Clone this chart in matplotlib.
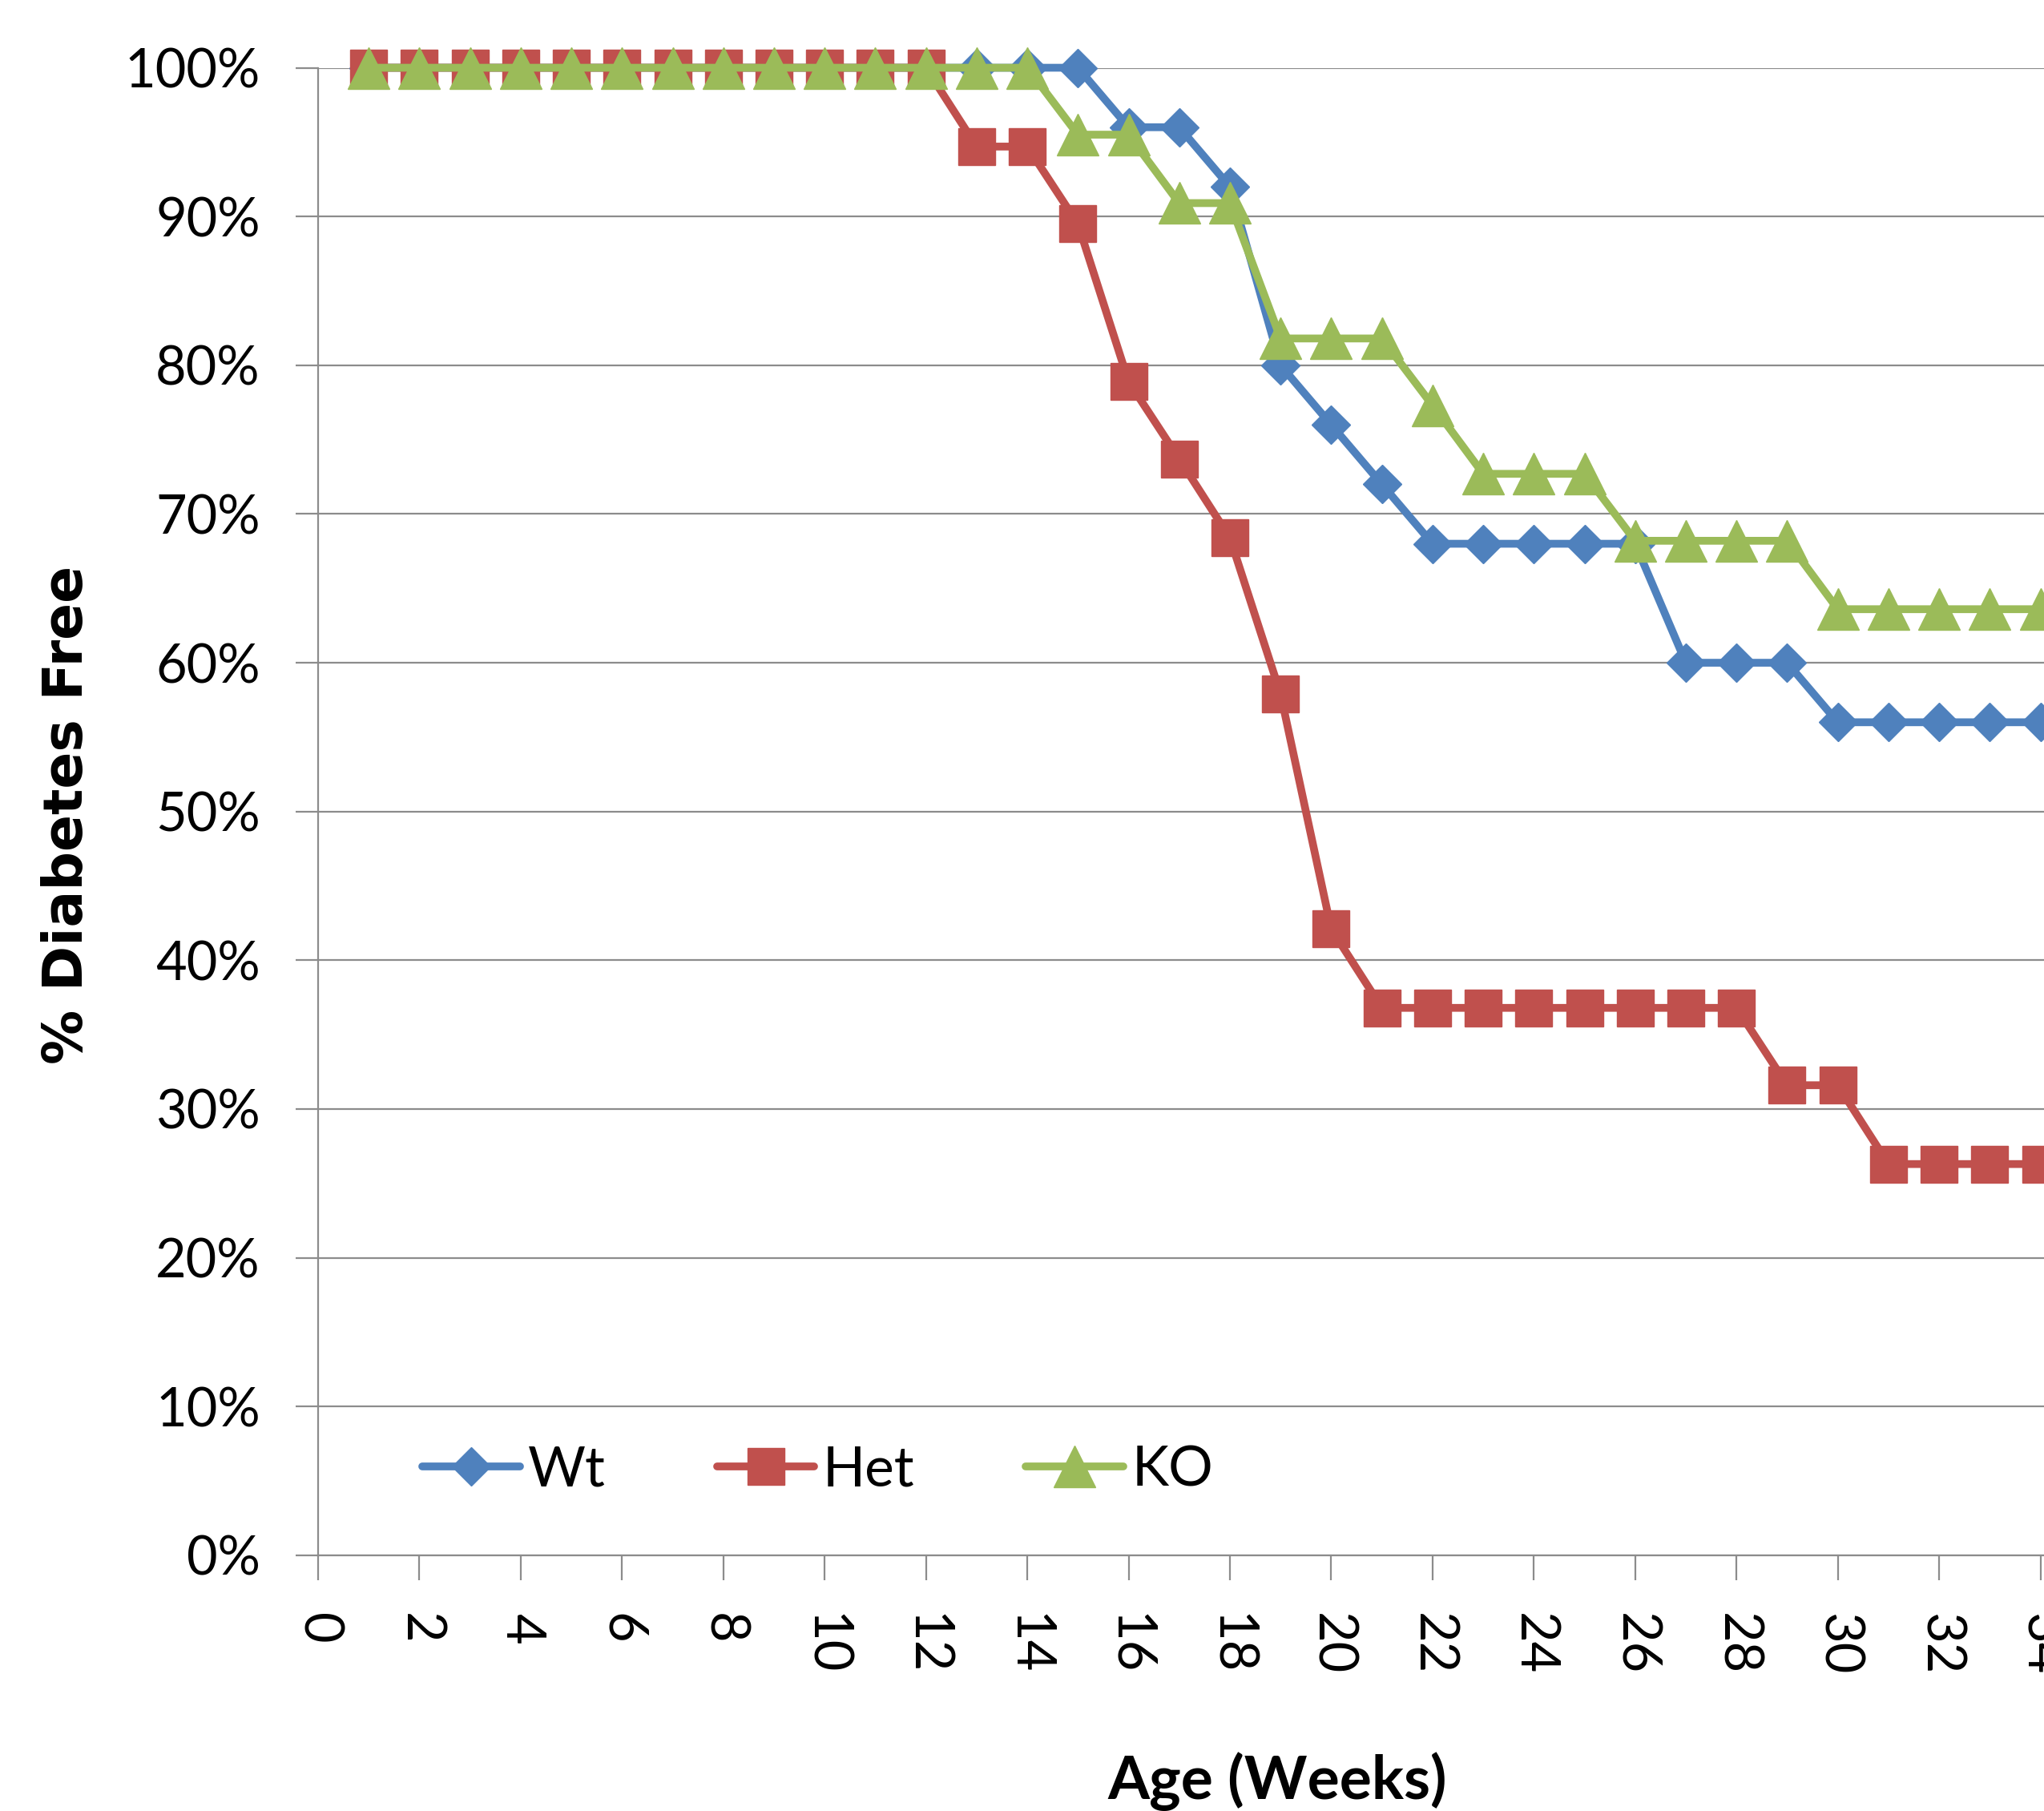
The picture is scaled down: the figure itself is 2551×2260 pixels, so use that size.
import matplotlib.pyplot as plt

# dados (semanas e % livre de diabetes)
semanas = [1, 2, 3, 4, 5, 6, 7, 8, 9, 10, 11, 12, 13, 14, 15, 16, 17,
           18, 19, 20, 21, 22, 23, 24, 25, 26, 27, 28, 29, 30, 31, 32, 33, 34]
wt = [100, 100, 100, 100, 100, 100, 100, 100, 100, 100, 100, 100, 100, 100, 100, 96, 96,
      92, 80, 76, 72, 68, 68, 68, 68, 68, 60, 60, 60, 56, 56, 56, 56, 56]
het = [100, 100, 100, 100, 100, 100, 100, 100, 100, 100, 100, 100, 94.7, 94.7, 89.5, 78.9, 73.7,
       68.4, 57.9, 42.1, 36.8, 36.8, 36.8, 36.8, 36.8, 36.8, 36.8, 36.8, 31.6, 31.6, 26.3, 26.3, 26.3, 26.3]
ko = [100, 100, 100, 100, 100, 100, 100, 100, 100, 100, 100, 100, 100, 100, 95.5, 95.5, 90.9,
      90.9, 81.8, 81.8, 81.8, 77.3, 72.7, 72.7, 72.7, 68.2, 68.2, 68.2, 68.2, 63.6, 63.6, 63.6, 63.6, 63.6]

series_nomes = ['Wt', 'Het', 'KO']
x_ticks = [0, 2, 4, 6, 8, 10, 12, 14, 16, 18, 20, 22, 24, 26, 28, 30, 32, 34]
y_ticks = [0, 10, 20, 30, 40, 50, 60, 70, 80, 90, 100]
y_labels = ['0%', '10%', '20%', '30%', '40%', '50%', '60%', '70%', '80%', '90%', '100%']

cinza = '#8c8c8c'
fonte = 'Lato'

fig = plt.figure(figsize=(25.51, 22.60), dpi=100)
ax = fig.add_axes([0.1556, 0.1412, 0.8444, 0.8214])

# linhas com marcadores (ordem do Excel: Wt, Het, KO por cima)
ax.plot(semanas, wt, color='#4F81BD', lw=7, marker='D', ms=24, label=series_nomes[0],
        clip_on=False, zorder=3, solid_capstyle='round')
ax.plot(semanas, het, color='#C0504D', lw=7, marker='s', ms=33, label=series_nomes[1],
        clip_on=False, zorder=4, solid_capstyle='round')
ax.plot(semanas, ko, color='#9BBB59', lw=7, marker='^', ms=37, label=series_nomes[2],
        clip_on=False, zorder=5, solid_capstyle='round')

ax.set_xlim(0, 34.07)
ax.set_ylim(0, 100)

ax.set_yticks(y_ticks)
ax.set_yticklabels(y_labels, fontfamily=fonte, fontsize=48)
ax.set_xticks(x_ticks)
ax.set_xticklabels([str(t) for t in x_ticks], fontfamily=fonte, fontsize=48, rotation=-90)

ax.tick_params(axis='y', length=20, width=1.6, color=cinza, pad=32)
ax.tick_params(axis='x', length=22, width=1.6, color=cinza, pad=30)

# grade horizontal
ax.grid(axis='y', color=cinza, lw=1.6)
ax.set_axisbelow(True)
for lado in ['top', 'right']:
    ax.spines[lado].set_visible(False)
for lado in ['left', 'bottom']:
    ax.spines[lado].set_color(cinza)
    ax.spines[lado].set_linewidth(1.6)

# legenda sem moldura, dentro do grafico
ax.legend(loc='center left', bbox_to_anchor=(0.193, 0.188), bbox_transform=fig.transFigure,
          ncol=3, frameon=False, borderpad=0, handlelength=1.75, handletextpad=0.15,
          columnspacing=2.0, prop={'family': fonte, 'size': 50})

fig.text(0.033, 0.55, '% Diabetes Free', rotation=90, ha='center', va='center',
         fontfamily='DejaVu Sans', fontweight='bold', fontsize=49)
fig.text(0.625, 0.0066, 'Age (Weeks)', ha='center', va='baseline',
         fontfamily=fonte, fontweight='bold', fontsize=54)

fig.savefig('out.png', dpi=100)
